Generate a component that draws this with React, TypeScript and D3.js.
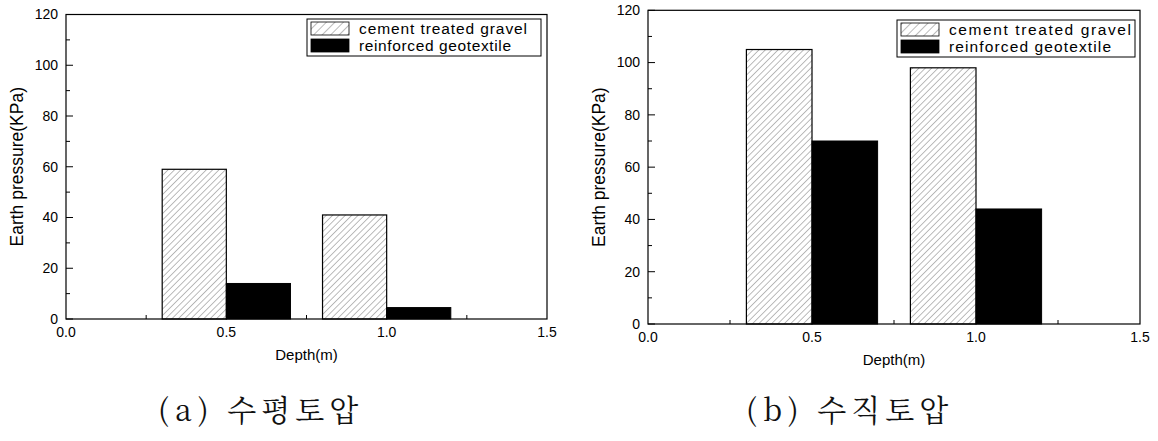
import React from 'react';
import * as d3 from 'd3';

const width = 1158;
const height = 441;

// depths along the x axis (m)
const depths = [0.5, 1.0];
// (a) horizontal earth pressure (KPa)
const horizGravel = [59, 41];
const horizGeotextile = [14, 4.5];
// (b) vertical earth pressure (KPa)
const vertGravel = [105, 98];
const vertGeotextile = [70, 44];

const seriesNames = ['cement treated gravel', 'reinforced geotextile'];
const yTicks = [0, 20, 40, 60, 80, 100, 120];
const yMinorTicks = [10, 30, 50, 70, 90, 110];
const xTicks = [0.0, 0.5, 1.0, 1.5];
const xMinorTicks = [0.25, 0.75, 1.25];
const captionTags = ['(a)', '(b)'];
const captionWords = ['수평토압', '수직토압'];

const barWidth = 0.2;
const font = '"Liberation Sans", Arial, sans-serif';

function Panel({ id, x0, x1, y0, y1, gravel, geo, legend, tag, word, captionX }) {
	const xScale = d3.scaleLinear().domain([0, 1.5]).range([x0, x1]);
	const yScale = d3.scaleLinear().domain([0, 120]).range([y0, y1]);
	const bw = xScale(barWidth) - xScale(0);

	return (
		<g>
			{/* minor x ticks (under bars) */}
			{xMinorTicks.map(t => (
				<line key={'xm' + t} x1={xScale(t)} x2={xScale(t)} y1={y0} y2={y0 - 4} stroke="#000" />
			))}
			{depths.map((d, i) => (
				<g key={'b' + d}>
					<rect
						x={xScale(d) - bw}
						y={yScale(gravel[i])}
						width={bw}
						height={yScale(0) - yScale(gravel[i])}
						fill={`url(#hatch-${id})`}
						stroke="#000"
						strokeWidth={1.2}
					/>
					<rect
						x={xScale(d)}
						y={yScale(geo[i])}
						width={bw}
						height={yScale(0) - yScale(geo[i])}
						fill="#000"
						stroke="#000"
					/>
				</g>
			))}
			<rect x={x0} y={y1} width={x1 - x0} height={y0 - y1} fill="none" stroke="#000" strokeWidth={1.2} />
			{yTicks.map(t => (
				<g key={'y' + t}>
					<line x1={x0} x2={x0 + 7} y1={yScale(t)} y2={yScale(t)} stroke="#000" />
					<text x={x0 - 8} y={yScale(t)} dy="0.35em" textAnchor="end" fontSize={14} fontFamily={font}>
						{t}
					</text>
				</g>
			))}
			{yMinorTicks.map(t => (
				<line key={'ym' + t} x1={x0} x2={x0 + 4} y1={yScale(t)} y2={yScale(t)} stroke="#000" />
			))}
			{xTicks.map(t => (
				<text key={'x' + t} x={xScale(t)} y={y0 + 18} textAnchor="middle" fontSize={14} fontFamily={font}>
					{d3.format('.1f')(t)}
				</text>
			))}
			<text
				x={(x0 + x1) / 2}
				y={y0 + 41}
				textAnchor="middle"
				fontSize={15}
				fontFamily={font}
			>
				Depth(m)
			</text>
			<text
				transform={`translate(${x0 - 43},${(y0 + y1) / 2}) rotate(-90)`}
				textAnchor="middle"
				fontSize={17.5}
				fontFamily={font}
			>
				Earth pressure(KPa)
			</text>
			{/* legend */}
			<rect
				x={legend.x}
				y={legend.y}
				width={legend.w}
				height={legend.h}
				fill="#fff"
				stroke="#000"
			/>
			{seriesNames.map((name, i) => (
				<g key={name}>
					<rect
						x={legend.x + 4}
						y={legend.y + 3 + i * 17}
						width={38}
						height={13}
						fill={i === 0 ? `url(#hatchL-${id})` : '#000'}
						stroke="#000"
						strokeWidth={0.8}
					/>
					<text
						x={legend.x + 52}
						y={legend.y + 15 + i * 17}
						fontSize={15.5}
						fontFamily={font}
						textLength={i === 0 ? legend.t0 : legend.t1}
						lengthAdjust="spacing"
					>
						{name}
					</text>
				</g>
			))}
			<text
				x={captionX}
				y={421}
				fontSize={30}
				fontFamily='"Noto Serif CJK KR", "Noto Sans CJK KR", serif'
				fill="#111"
			>
				<tspan letterSpacing={6}>{tag}</tspan>
				<tspan letterSpacing={5}>{' ' + word}</tspan>
			</text>
		</g>
	);
}

export default function App() {
	return (
		<svg
			width={width}
			height={height}
			style={{ position: 'absolute', left: 0, top: 0, background: '#fff' }}
		>
			<defs>
				{['a', 'b'].map(id => (
					<React.Fragment key={id}>
						<pattern id={`hatch-${id}`} width={4.5} height={4.5} patternUnits="userSpaceOnUse" patternTransform="rotate(45)">
							<rect width={4.5} height={4.5} fill="#fff" />
							<line x1={0} y1={0} x2={0} y2={4.5} stroke="#555" strokeWidth={0.8} />
						</pattern>
						<pattern id={`hatchL-${id}`} width={6} height={6} patternUnits="userSpaceOnUse" patternTransform="rotate(45)">
							<rect width={6} height={6} fill="#fff" />
							<line x1={0} y1={0} x2={0} y2={6} stroke="#555" strokeWidth={0.8} />
						</pattern>
					</React.Fragment>
				))}
			</defs>
			<rect width={width} height={height} fill="#fff" />
			<Panel
				id="a"
				x0={66}
				x1={547}
				y0={319}
				y1={14.5}
				gravel={horizGravel}
				geo={horizGeotextile}
				legend={{ x: 307, y: 19, w: 234, h: 37, t0: 168, t1: 152 }}
				tag={captionTags[0]}
				word={captionWords[0]}
				captionX={158}
			/>
			<Panel
				id="b"
				x0={648}
				x1={1140}
				y0={324}
				y1={10.3}
				gravel={vertGravel}
				geo={vertGeotextile}
				legend={{ x: 897, y: 20, w: 238, h: 37, t0: 182, t1: 162 }}
				tag={captionTags[1]}
				word={captionWords[1]}
				captionX={746}
			/>
		</svg>
	);
}
